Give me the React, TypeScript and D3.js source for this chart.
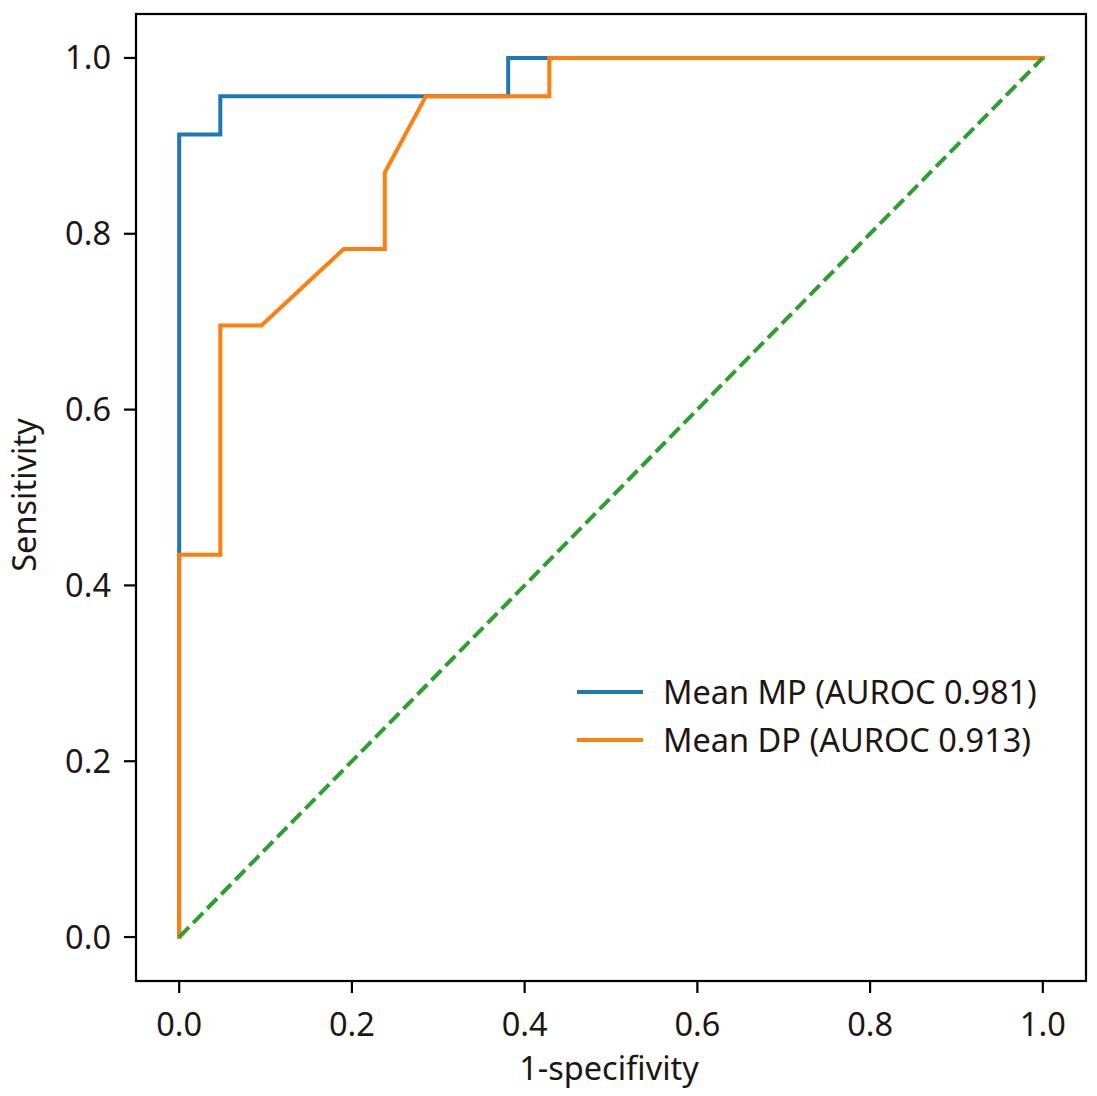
import React from 'react';
import { scaleLinear, line as d3Line } from 'd3';

// ROC vertices (21 negatives, 23 positives)
const mpFpr = [0, 0, 1 / 21, 1 / 21, 8 / 21, 8 / 21, 1];
const mpTpr = [0, 21 / 23, 21 / 23, 22 / 23, 22 / 23, 1, 1];
const dpFpr = [0, 0, 1 / 21, 1 / 21, 2 / 21, 4 / 21, 5 / 21, 5 / 21, 6 / 21, 9 / 21, 9 / 21, 1];
const dpTpr = [0, 10 / 23, 10 / 23, 16 / 23, 16 / 23, 18 / 23, 18 / 23, 20 / 23, 22 / 23, 22 / 23, 1, 1];
const chanceFpr = [0, 1];
const chanceTpr = [0, 1];

const seriesNames = ['Mean MP (AUROC 0.981)', 'Mean DP (AUROC 0.913)'];
const seriesColors = ['#1f77b4', '#ff7f0e'];
const ticks = [0, 0.2, 0.4, 0.6, 0.8, 1.0];

const W = 1097;
const H = 1096;
const box = { left: 136, right: 1086, top: 14, bottom: 981 };
const font = '"Noto Sans", "DejaVu Sans", sans-serif';
const fs = 32.5;
const ink = '#1e1614';
const lw = 4;

type P = [number, number];
const zip = (xs: number[], ys: number[]): P[] => xs.map((x, i) => [x, ys[i]]);

export default function App() {
  const x = scaleLinear().domain([-0.05, 1.05]).range([box.left, box.right]);
  const y = scaleLinear().domain([-0.05, 1.05]).range([box.bottom, box.top]);
  const path = d3Line<P>().x(d => x(d[0])).y(d => y(d[1]));

  const series = [zip(mpFpr, mpTpr), zip(dpFpr, dpTpr)];

  return (
    <svg
      width={W}
      height={H}
      style={{ position: 'absolute', left: 0, top: 0, background: '#fff' }}
      fontFamily={font}
    >
      <rect x={0} y={0} width={W} height={H} fill="#fff" />
      <defs>
        <clipPath id="plot">
          <rect x={box.left} y={box.top} width={box.right - box.left} height={box.bottom - box.top} />
        </clipPath>
      </defs>

      <g clipPath="url(#plot)">
        {series.map((s, i) => (
          <path
            key={i}
            d={path(s) || ''}
            fill="none"
            stroke={seriesColors[i]}
            strokeWidth={lw}
            strokeLinejoin="miter"
            strokeLinecap="square"
          />
        ))}
        <path
          d={path(zip(chanceFpr, chanceTpr)) || ''}
          fill="none"
          stroke="#2ca02c"
          strokeWidth={lw}
          strokeDasharray="14 6"
        />
      </g>

      {/* frame */}
      <rect
        x={box.left}
        y={box.top}
        width={box.right - box.left}
        height={box.bottom - box.top}
        fill="none"
        stroke="#000"
        strokeWidth={2.2}
      />

      {/* x ticks */}
      {ticks.map(t => (
        <g key={'x' + t}>
          <line x1={x(t)} x2={x(t)} y1={box.bottom} y2={box.bottom + 12} stroke="#000" strokeWidth={2.2} />
          <text x={x(t)} y={1036} textAnchor="middle" fontSize={fs} fill={ink}>
            {t.toFixed(1)}
          </text>
        </g>
      ))}

      {/* y ticks */}
      {ticks.map(t => (
        <g key={'y' + t}>
          <line x1={box.left - 12} x2={box.left} y1={y(t)} y2={y(t)} stroke="#000" strokeWidth={2.2} />
          <text x={111} y={y(t) + 11.5} textAnchor="end" fontSize={fs} fill={ink}>
            {t.toFixed(1)}
          </text>
        </g>
      ))}

      <text x={609} y={1080} textAnchor="middle" fontSize={fs} fill={ink}>
        1-specifivity
      </text>
      <text
        transform={`translate(36,495) rotate(-90)`}
        textAnchor="middle"
        fontSize={fs}
        fill={ink}
      >
        Sensitivity
      </text>

      {/* legend */}
      {seriesNames.map((n, i) => (
        <g key={n} transform={`translate(577,${692 + i * 48})`}>
          <line x1={0} x2={66} y1={0} y2={0} stroke={seriesColors[i]} strokeWidth={lw} />
          <text x={86} y={12} fontSize={fs} fill={ink}>
            {n}
          </text>
        </g>
      ))}
    </svg>
  );
}
